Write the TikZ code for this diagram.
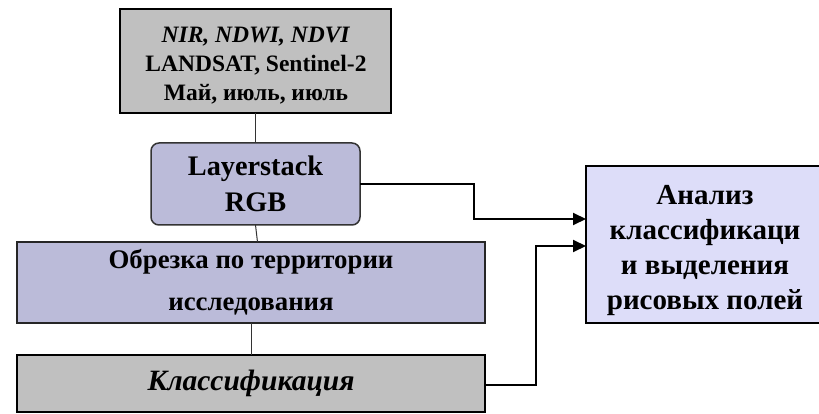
\documentclass[tikz,border=0pt]{standalone}
\usepackage{fontspec}
\setmainfont{Liberation Serif}
\usetikzlibrary{arrows.meta,calc}
\definecolor{grayfill}{HTML}{C0C0C0}
\definecolor{lavfill}{HTML}{BBBBD9}
\definecolor{lightlav}{HTML}{DDDDF9}
\tikzset{
  box/.style={draw=black, line width=2pt, anchor=north west, inner sep=0pt, outer sep=0pt, align=center, font=\bfseries},
  link/.style={draw=black!80, line width=1pt},
  arr/.style={draw=black, line width=2pt, -{Triangle[length=13pt,width=12pt]}},
}
\begin{document}
\begin{tikzpicture}[x=1pt,y=-1pt]
\useasboundingbox (0,0) rectangle (819,414);
\node[box, fill=grayfill, minimum width=271pt, minimum height=104pt] (src) at (120,9) {};
\node[align=center, inner sep=0pt, font=\fontsize{23.5}{29}\selectfont\bfseries] (srctext) at (256,66)
  {\textit{NIR, NDWI, NDVI}\\LANDSAT, Sentinel-2\\Май, июль, июль};
\node[box, fill=lavfill, draw=black!80, line width=1.5pt, rounded corners=8pt, minimum width=209pt, minimum height=82pt, font=\fontsize{28.3}{36}\selectfont\bfseries] (ls) at (151,143)
  {Layerstack\\RGB};
\node[box, fill=lavfill, draw=black!85, minimum width=468pt, minimum height=81pt, font=\fontsize{26.8}{42}\selectfont\bfseries] (crop) at (17,242)
  {Обрезка по территории\\исследования};
\node[box, fill=grayfill, line width=2.5pt, minimum width=468pt, minimum height=57pt, font=\fontsize{29.5}{30}\selectfont\bfseries\itshape] (cls) at (17,355)
  {Классификация};
\node[box, fill=lightlav, minimum width=234pt, minimum height=157pt] (ana) at (586,166) {};
\node[align=center, inner sep=0pt, font=\fontsize{29}{35}\selectfont\bfseries] (anatext) at ($(ana.center)+(2,6)$)
  {Анализ\\классификаци\\и выделения\\рисовых полей};
\draw[link] (src.south) -- (ls.north);
\draw[link] (ls.south) -- ($(ls.south |- crop.north)+(2,0)$);
\draw[link] (crop.south -| cls.north) -- (cls.north);
\coordinate (a1) at (474,184);
\coordinate (a2) at (536,385);
\draw[arr] (ls.east |- a1) -- (a1) |- (ana.west |- 0,219);
\draw[arr] (cls.east |- a2) -- (a2) |- (ana.west |- 0,246);
\end{tikzpicture}
\end{document}
